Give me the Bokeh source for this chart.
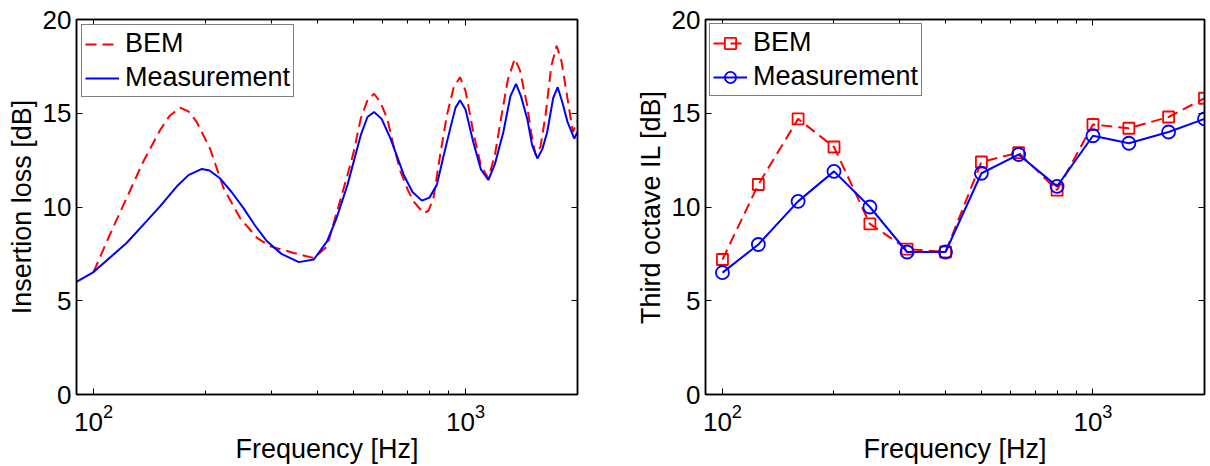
from bokeh.plotting import figure
from bokeh.layouts import row
from bokeh.models import (Range1d, FixedTicker, LogAxis, LinearAxis, LogTickFormatter,
                          CustomJSTickFormatter)
from bokeh.embed import file_html
from bokeh.resources import INLINE

# ---------------- data ----------------
# Left: narrowband insertion loss
bem_freq = [100, 110.6, 122.7, 136, 150.9, 160, 170.9, 180, 189.4, 205.6, 223.7, 247.7,
            275.2, 298.9, 345.3, 391, 424.4, 481.6, 500, 522.8, 545, 567.7, 590, 616,
            640, 669, 700, 725.5, 771.3, 795, 820, 855, 891, 930, 966.7, 1000, 1049,
            1100, 1152, 1200, 1250, 1300, 1356, 1400, 1465, 1500, 1543, 1590, 1641,
            1700, 1758, 1810, 1862, 1943, 2000]
bem_il = [6.53, 8.52, 10.47, 12.41, 14.09, 14.85, 15.3, 15.1, 14.54, 13.12, 11.0, 9.41,
          8.35, 7.9, 7.55, 7.28, 7.9, 11.71, 12.9, 14.71, 15.7, 16.04, 15.6, 14.71,
          13.3, 11.88, 10.9, 10.29, 9.67, 9.8, 10.47, 12.8, 14.89, 16.4, 16.92, 16.2, 14.0,
          12.2, 11.53, 12.8, 14.89, 16.8, 17.9, 17.3, 15.42, 14.0, 12.77, 13.2, 14.89,
          17.5, 18.6, 17.8, 16.3, 14.0, 14.6]

meas_freq = [90, 100, 110, 122.7, 136, 150.9, 167.3, 180, 195.6, 205, 218.8, 235, 253,
             272, 292.6, 320, 356.4, 391, 424.4, 450, 481.6, 522.8, 545, 567.7, 595,
             628.6, 682.4, 720, 763.6, 800, 837.4, 870, 909.6, 940, 966.7, 1000, 1049,
             1100, 1152, 1200, 1264, 1320, 1367, 1410, 1465, 1510, 1560, 1610, 1658,
             1720, 1769, 1820, 1880, 1960, 2000]
meas_il = [6.01, 6.53, 7.25, 8.08, 9.05, 10.03, 11.09, 11.7, 12.03, 11.95, 11.53, 10.8,
           9.94, 9.0, 8.17, 7.5, 7.06, 7.2, 8.17, 9.4, 11.18, 13.83, 14.8, 15.07, 14.7,
           13.65, 11.71, 10.8, 10.34, 10.5, 11.18, 12.6, 14.18, 15.3, 15.69, 15.2, 13.47,
           12.0, 11.44, 12.3, 14.0, 15.9, 16.57, 15.9, 14.71, 13.3, 12.59, 13.1, 14.0,
           15.8, 16.39, 15.6, 14.54, 13.65, 14.0]

# Right: third octave bands
band_freq = [100, 125, 160, 200, 250, 315, 400, 500, 630, 800, 1000, 1250, 1600, 2000]
band_bem = [7.2, 11.2, 14.7, 13.2, 9.1, 7.75, 7.6, 12.4, 12.9, 10.9, 14.4, 14.2, 14.8, 15.8]
band_meas = [6.5, 8.0, 10.3, 11.9, 10.0, 7.6, 7.6, 11.8, 12.8, 11.1, 13.8, 13.4, 14.0, 14.7]

x_major = [100, 1000]
x_minor = [200, 300, 400, 500, 600, 700, 800, 900, 2000]
y_ticks = [0, 5, 10, 15, 20]

FONT = "Liberation Sans"
FS_TICK = "26px"
FS_LAB = "27px"
RED = "#ff0000"
BLUE = "#0000ff"


def make_fig(width, ylabel, border_left, border_right, border_top, border_bottom):
    p = figure(width=width, height=466, x_axis_type="log",
               x_range=Range1d(90, 2000), y_range=Range1d(0, 20),
               output_backend="svg", toolbar_location=None,
               min_border_left=border_left, min_border_right=border_right,
               min_border_top=border_top, min_border_bottom=border_bottom)
    p.grid.visible = False
    p.background_fill_color = "white"
    p.border_fill_color = "white"
    p.outline_line_color = "black"
    p.outline_line_width = 1.5

    xa = p.xaxis[0]
    xa.ticker = FixedTicker(ticks=x_major, minor_ticks=x_minor)
    xa.formatter = LogTickFormatter()
    xa.axis_label = "Frequency [Hz]"
    ya = p.yaxis[0]
    ya.ticker = FixedTicker(ticks=y_ticks, minor_ticks=[])
    ya.axis_label = ylabel

    for ax in (xa, ya):
        ax.axis_line_color = "black"
        ax.axis_line_width = 1.5
        ax.major_tick_in = 6
        ax.major_tick_out = 0
        ax.minor_tick_in = 4
        ax.minor_tick_out = 0
        ax.major_tick_line_color = "black"
        ax.minor_tick_line_color = "black"
        ax.major_label_text_font = FONT
        ax.major_label_text_font_size = FS_TICK
        ax.major_label_text_color = "black"
        ax.axis_label_text_font = FONT
        ax.axis_label_text_font_size = FS_LAB
        ax.axis_label_text_font_style = "normal"
        ax.axis_label_text_color = "black"
    xa.major_label_standoff = 9
    xa.axis_label_standoff = 0
    ya.major_label_standoff = 5
    ya.axis_label_standoff = 3

    blank = CustomJSTickFormatter(code="return '';")
    top = LogAxis(ticker=FixedTicker(ticks=x_major, minor_ticks=x_minor),
                  formatter=blank,
                  major_label_text_font_size="1px", major_label_standoff=0,
                  major_tick_in=6, major_tick_out=0, minor_tick_in=4, minor_tick_out=0,
                  axis_line_color="black", axis_line_width=1.5)
    right = LinearAxis(ticker=FixedTicker(ticks=y_ticks, minor_ticks=[]),
                       formatter=blank,
                       major_label_text_font_size="1px", major_label_standoff=0,
                       major_tick_in=6, major_tick_out=0, minor_tick_in=0, minor_tick_out=0,
                       axis_line_color="black", axis_line_width=1.5)
    p.add_layout(top, "above")
    p.add_layout(right, "right")
    return p


def style_legend(p, margin):
    lg = p.legend[0]
    lg.location = "top_left"
    lg.label_text_font = FONT
    lg.label_text_font_size = FS_LAB
    lg.label_text_color = "black"
    lg.border_line_color = "black"
    lg.border_line_width = 1
    lg.background_fill_color = "white"
    lg.background_fill_alpha = 1
    lg.glyph_width = 34
    lg.glyph_height = 28
    lg.label_height = 28
    lg.label_standoff = 6
    lg.spacing = 3
    lg.padding = 3
    lg.margin = margin


p1 = make_fig(632, "Insertion loss [dB]", 76, 55, 17, 72)
p1.line(bem_freq, bem_il, line_color=RED, line_width=2, line_dash="11 6", legend_label="BEM")
p1.line(meas_freq, meas_il, line_color=BLUE, line_width=2, legend_label="Measurement")
style_legend(p1, 5)

p2 = make_fig(578, "Third octave IL [dB]", 73, 6, 19, 72)
p2.line(band_freq, band_bem, line_color=RED, line_width=2, line_dash="11 6", legend_label="BEM")
p2.scatter(band_freq, band_bem, marker="square", size=11, line_color=RED, line_width=1.8,
           fill_color=None, legend_label="BEM")
p2.line(band_freq, band_meas, line_color=BLUE, line_width=2, legend_label="Measurement")
p2.scatter(band_freq, band_meas, marker="circle", size=13, line_color=BLUE, line_width=1.8,
           fill_color=None, legend_label="Measurement")
style_legend(p2, 4)

layout = row(p1, p2, spacing=0)
open("out.html", "w").write(file_html(layout, INLINE))
